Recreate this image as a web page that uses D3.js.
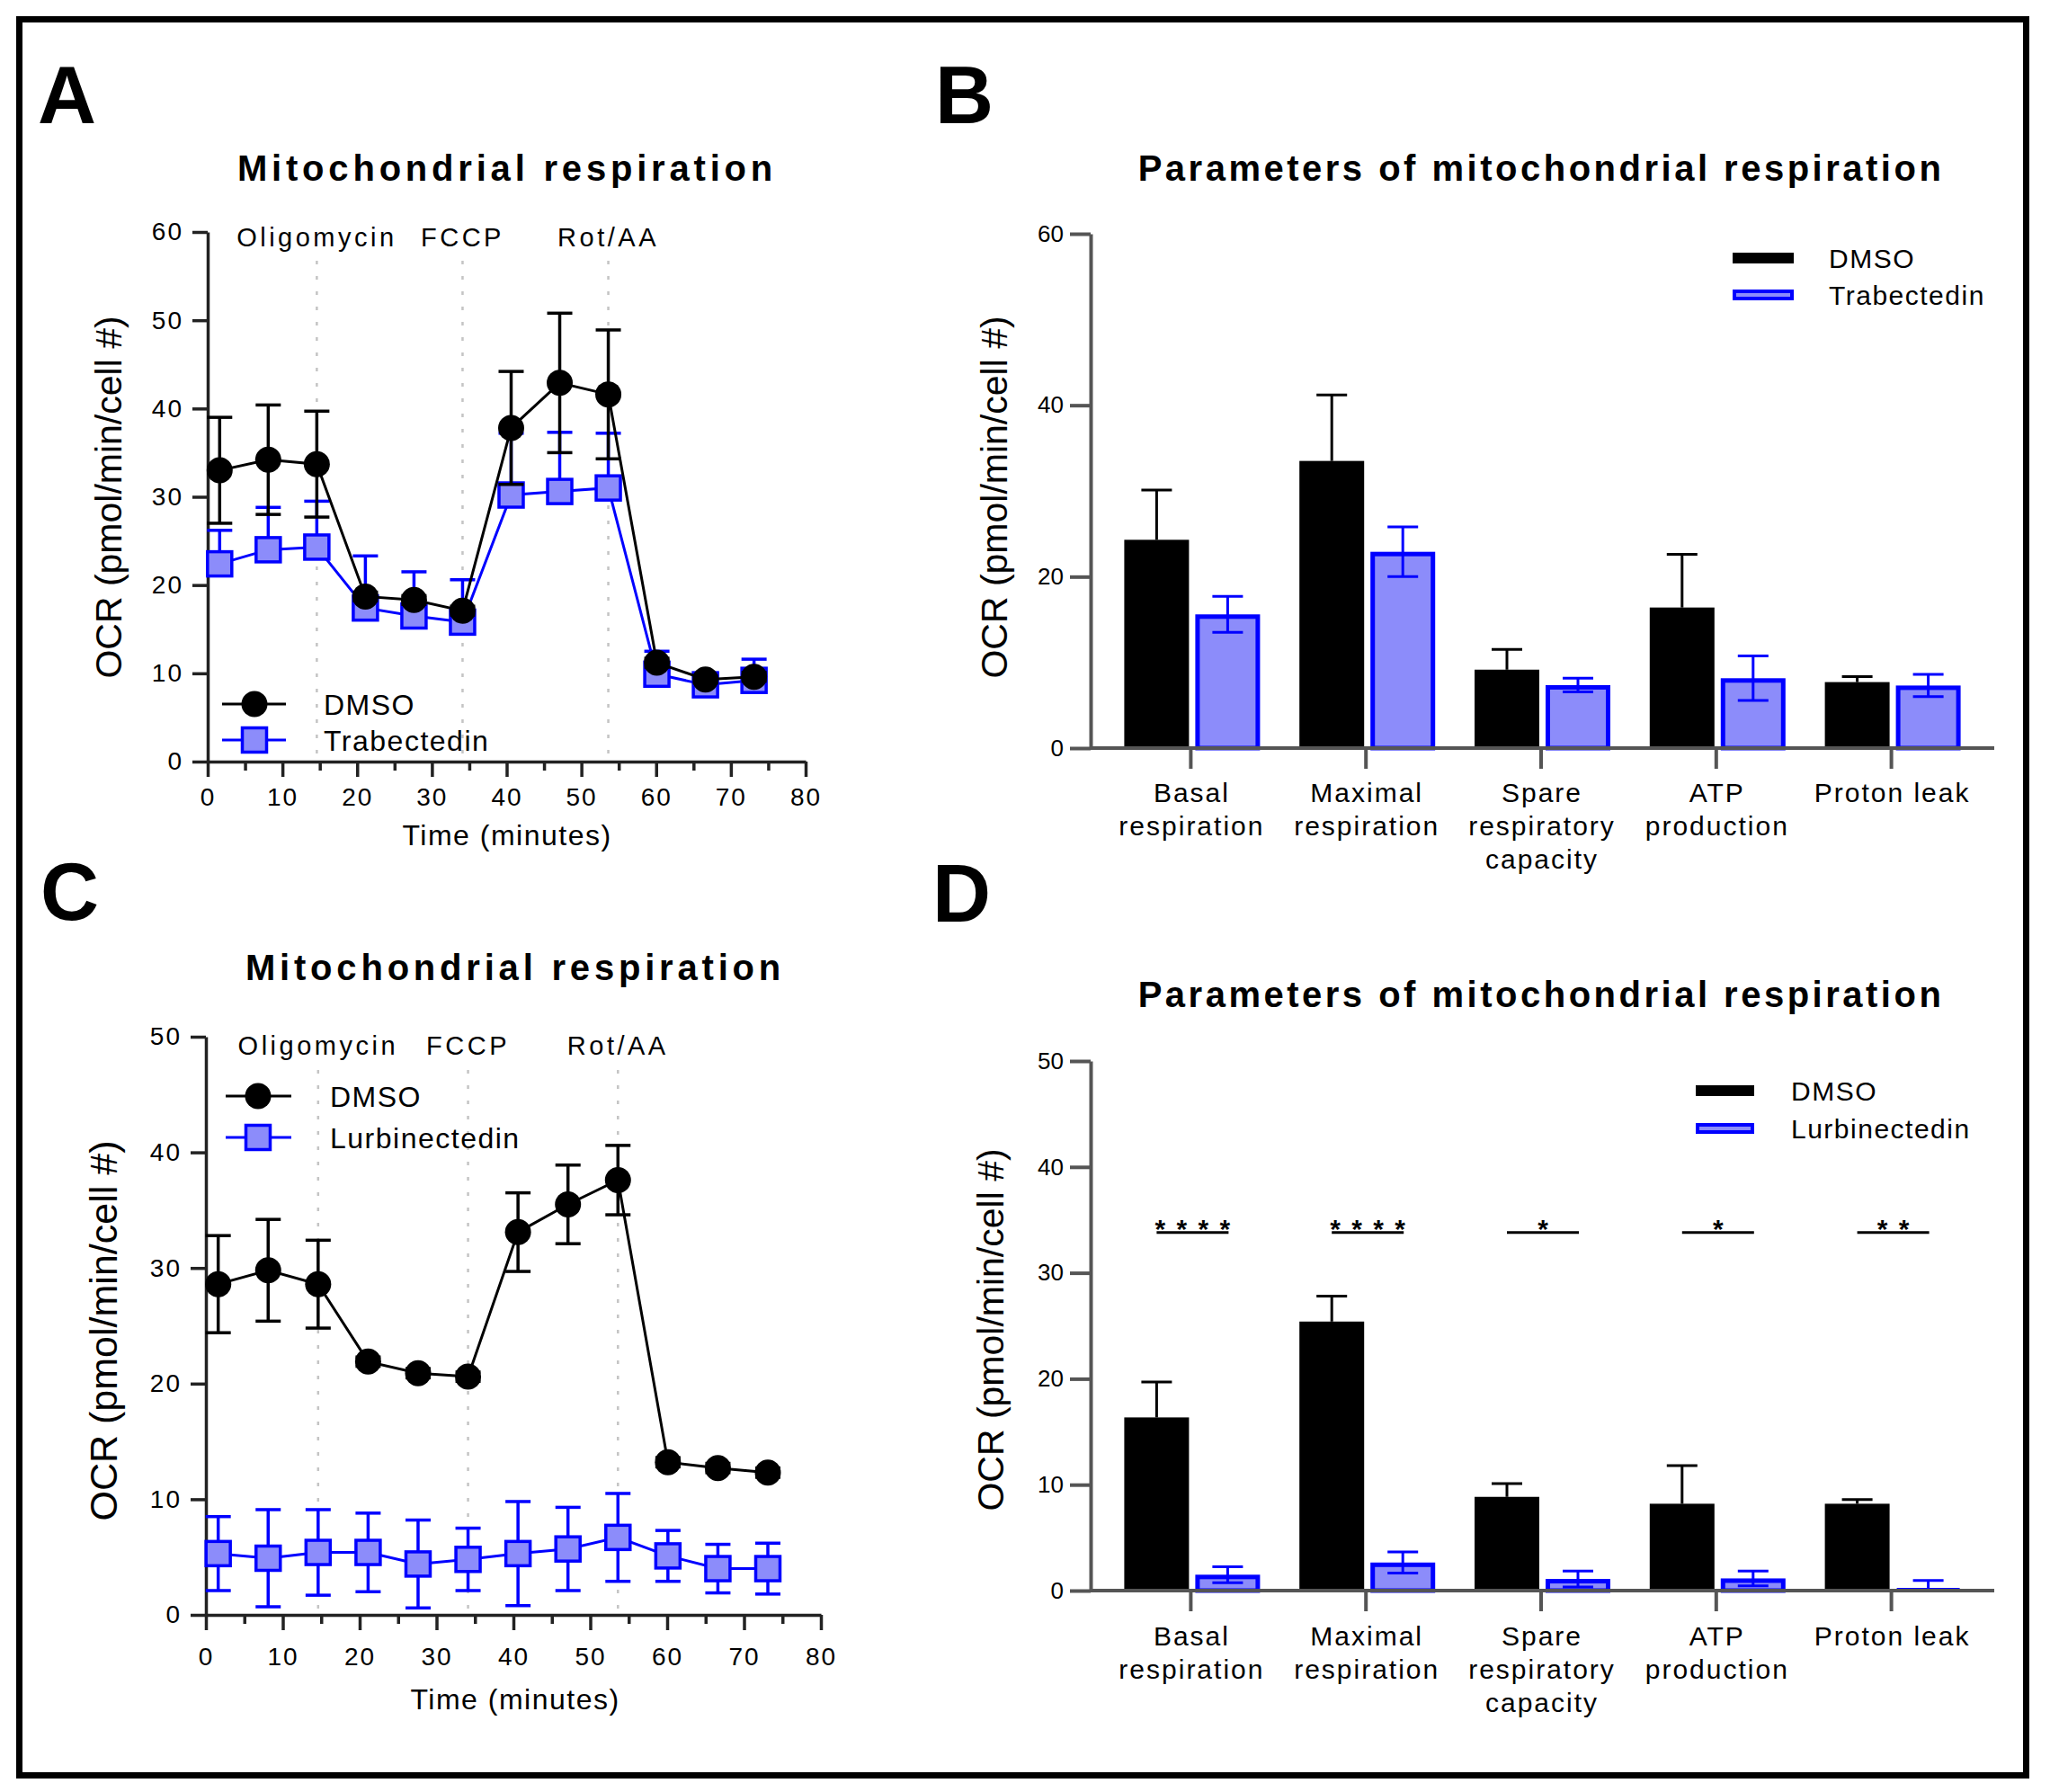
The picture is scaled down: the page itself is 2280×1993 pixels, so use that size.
<!DOCTYPE html>
<html>
<head>
<meta charset="utf-8">
<script src="https://cdn.jsdelivr.net/npm/d3@7"></script>
<style>
  body { margin: 0; background: #fff; }
  svg text { font-family: "Liberation Sans", Arial, sans-serif; }
</style>
</head>
<body>
<svg id="fig"></svg>
<script>
// ---------- data ----------
const times = [1.6, 8.1, 14.6, 21.1, 27.6, 34.1, 40.6, 47.1, 53.6, 60.1, 66.6, 73.1];
const injectionLabels = ["Oligomycin", "FCCP", "Rot/AA"];
const injectionTimes = [14.6, 34.1, 53.6];
const timeTicks = [0, 10, 20, 30, 40, 50, 60, 70, 80];
const timeMinorTicks = [5, 15, 25, 35, 45, 55, 65, 75];

// panel A (Trabectedin)
const aDmso   = [33.0, 34.2, 33.7, 18.7, 18.3, 17.1, 37.8, 42.9, 41.6, 11.2, 9.3, 9.6];
const aDmsoSd = [6.0, 6.2, 6.0, 0.5, 0.5, 0.5, 6.4, 7.9, 7.3, 0.5, 0.4, 0.5];
const aTrab   = [22.4, 24.0, 24.3, 17.4, 16.5, 15.8, 30.2, 30.6, 31.0, 9.9, 8.7, 9.2];
const aTrabSd = [3.8, 4.8, 5.2, 5.9, 5.0, 4.8, 7.0, 6.7, 6.2, 2.6, 1.2, 2.4];
const aYTicks = [0, 10, 20, 30, 40, 50, 60];

// panel C (Lurbinectedin)
const cDmso   = [28.6, 29.8, 28.6, 21.9, 20.9, 20.6, 33.1, 35.5, 37.6, 13.2, 12.7, 12.3];
const cDmsoSd = [4.2, 4.4, 3.8, 0.4, 0.4, 0.4, 3.4, 3.4, 3.0, 0.4, 0.4, 0.4];
const cLurb   = [5.3, 4.9, 5.4, 5.4, 4.4, 4.8, 5.3, 5.7, 6.7, 5.1, 4.0, 4.0];
const cLurbSd = [3.2, 4.2, 3.7, 3.4, 3.8, 2.7, 4.5, 3.6, 3.8, 2.2, 2.1, 2.2];
const cYTicks = [0, 10, 20, 30, 40, 50];

// bar panels
const params = [["Basal", "respiration"], ["Maximal", "respiration"],
                ["Spare", "respiratory", "capacity"], ["ATP", "production"], ["Proton leak"]];
const paramKeys = params.map(p => p.join(" "));

const bDmso   = [24.3, 33.5, 9.15, 16.4, 7.7];
const bDmsoSd = [5.8, 7.7, 2.35, 6.2, 0.65];
const bTrab   = [15.6, 22.9, 7.35, 8.15, 7.3];
const bTrabSd = [2.1, 2.9, 0.8, 2.6, 1.3];
const bYTicks = [0, 20, 40, 60];

const dDmso   = [16.35, 25.4, 8.85, 8.2, 8.2];
const dDmsoSd = [3.35, 2.4, 1.25, 3.6, 0.4];
const dLurb   = [1.5, 2.65, 1.1, 1.15, 0.1];
const dLurbSd = [0.75, 1.0, 0.75, 0.7, 0.85];
const dSig    = ["****", "****", "*", "*", "**"];
const dSigLevel = 33.8;
const dYTicks = [0, 10, 20, 30, 40, 50];

// ---------- style ----------
const BLUE = "#0000ff";
const LIGHT = "#8c8cfa";
const W = 2280, H = 1993;

const svg = d3.select("#fig").attr("width", W).attr("height", H);
svg.append("rect").attr("width", W).attr("height", H).attr("fill", "#fff");
svg.append("rect")
  .attr("x", 21.5).attr("y", 21.5).attr("width", 2232).attr("height", 1953)
  .attr("fill", "none").attr("stroke", "#000").attr("stroke-width", 7);

function panelLetter(t, x, y) {
  svg.append("text").attr("x", x).attr("y", y)
    .style("font-size", "90px").style("font-weight", "bold").text(t);
}

function title(t, x, y, ls) {
  svg.append("text").attr("x", x).attr("y", y).attr("text-anchor", "middle")
    .style("font-size", "40px").style("font-weight", "bold")
    .style("letter-spacing", ls + "px").text(t);
}

function yLabel(x, y, size) {
  svg.append("text")
    .attr("transform", `translate(${x},${y}) rotate(-90)`)
    .attr("text-anchor", "middle").attr("dy", "0.35em")
    .style("font-size", size + "px")
    .text("OCR (pmol/min/cell #)");
}

// ---------- line charts ----------
function lineChart(cfg) {
  const g = svg.append("g");
  const x = d3.scaleLinear().domain([0, 80]).range([cfg.x0, cfg.x1]);
  const y = d3.scaleLinear().domain([0, cfg.yMax]).range([cfg.y0, cfg.y1]);

  panelLetter(cfg.letter, cfg.letterX, cfg.letterY);
  title("Mitochondrial respiration", cfg.titleX, cfg.titleY, 4.8);

  // injection markers
  injectionTimes.forEach((t, i) => {
    g.append("line")
      .attr("x1", x(t)).attr("x2", x(t))
      .attr("y1", cfg.dotTop).attr("y2", cfg.y0)
      .attr("stroke", "#c4c4c4").attr("stroke-width", 2.5)
      .attr("stroke-dasharray", "4,13");
    g.append("text").attr("x", x(t)).attr("y", cfg.annY)
      .attr("text-anchor", "middle")
      .style("font-size", "29px").style("letter-spacing", "3.5px")
      .text(injectionLabels[i]);
  });

  // axes
  const xa = g.append("g").attr("transform", `translate(0,${cfg.y0})`)
    .call(d3.axisBottom(x).tickValues(timeTicks).tickSize(17).tickSizeOuter(0));
  xa.selectAll("text").attr("y", cfg.tickY - cfg.y0).attr("dy", null)
    .style("font-size", "28px").style("letter-spacing", "2px").attr("fill", "#000");
  g.append("g").attr("transform", `translate(0,${cfg.y0})`)
    .call(d3.axisBottom(x).tickValues(timeMinorTicks).tickSize(10).tickFormat(""))
    .select(".domain").remove();

  const ya = g.append("g").attr("transform", `translate(${cfg.x0},0)`)
    .call(d3.axisLeft(y).tickValues(cfg.yTicks).tickSize(17).tickSizeOuter(0).tickPadding(10));
  ya.selectAll("text").style("font-size", "28px").style("letter-spacing", "2px").attr("fill", "#000");

  g.selectAll(".domain").attr("stroke", "#222").attr("stroke-width", 3.5);
  g.selectAll(".tick line").attr("stroke", "#222").attr("stroke-width", 3.5);

  yLabel(cfg.ylabX, cfg.ylabY, cfg.ylabSize);
  g.append("text").attr("x", cfg.xlabX).attr("y", cfg.xlabY)
    .attr("text-anchor", "middle")
    .style("font-size", "32px").style("letter-spacing", "1.5px")
    .text("Time (minutes)");

  const line = d3.line().x((d, i) => x(times[i])).y(d => y(d));

  cfg.series.forEach(s => {
    const sg = g.append("g");
    sg.append("path").datum(s.values)
      .attr("d", line).attr("fill", "none")
      .attr("stroke", s.color).attr("stroke-width", 3);

    // error bars
    s.values.forEach((v, i) => {
      const cx = x(times[i]);
      const ends = s.dir === "up" ? [v + s.sd[i]] : [v + s.sd[i], v - s.sd[i]];
      ends.forEach(e => {
        sg.append("line").attr("x1", cx).attr("x2", cx)
          .attr("y1", y(v)).attr("y2", y(e))
          .attr("stroke", s.color).attr("stroke-width", 3.5);
        sg.append("line").attr("x1", cx - 14).attr("x2", cx + 14)
          .attr("y1", y(e)).attr("y2", y(e))
          .attr("stroke", s.color).attr("stroke-width", 3.5);
      });
    });

    s.values.forEach((v, i) => drawMarker(sg, s.marker, x(times[i]), y(v)));
  });

  // legend
  cfg.series.slice().reverse().forEach((s, k) => {
    const ly = cfg.legend.y[k];
    g.append("line").attr("x1", cfg.legend.x0).attr("x2", cfg.legend.x1)
      .attr("y1", ly).attr("y2", ly)
      .attr("stroke", s.color).attr("stroke-width", 3);
    drawMarker(g, s.marker, cfg.legend.cx, ly);
    g.append("text").attr("x", cfg.legend.tx).attr("y", ly + 11.5)
      .style("font-size", "32px").style("letter-spacing", "1.5px").text(s.name);
  });
}

function drawMarker(g, kind, cx, cy) {
  if (kind === "circle") {
    g.append("circle").attr("cx", cx).attr("cy", cy).attr("r", 14.5).attr("fill", "#000");
  } else {
    g.append("rect").attr("x", cx - 13.5).attr("y", cy - 13.5)
      .attr("width", 27).attr("height", 27)
      .attr("fill", LIGHT).attr("stroke", BLUE).attr("stroke-width", 3.5);
  }
}

// ---------- bar charts ----------
function barChart(cfg) {
  const g = svg.append("g");
  const x = d3.scaleBand().domain(paramKeys).range([1227, 2201]).padding(0);
  const cxOf = k => x(k) + x.bandwidth() / 2;
  const y = d3.scaleLinear().domain([0, cfg.yMax]).range([cfg.y0, cfg.y1]);
  const barW = 72;

  panelLetter(cfg.letter, cfg.letterX, cfg.letterY);
  title("Parameters of mitochondrial respiration", 1714, cfg.titleY, 3.5);
  yLabel(cfg.ylabX, cfg.ylabY, 41);

  // bars
  paramKeys.forEach((k, i) => {
    const c = cxOf(k);
    // control bar
    const v = cfg.dmso[i], sd = cfg.dmsoSd[i];
    g.append("line").attr("x1", c - 38).attr("x2", c - 38)
      .attr("y1", y(v)).attr("y2", y(v + sd))
      .attr("stroke", "#000").attr("stroke-width", 3);
    g.append("line").attr("x1", c - 55).attr("x2", c - 21)
      .attr("y1", y(v + sd)).attr("y2", y(v + sd))
      .attr("stroke", "#000").attr("stroke-width", 3);
    g.append("rect").attr("x", c - 74).attr("y", y(v))
      .attr("width", barW).attr("height", cfg.y0 - y(v)).attr("fill", "#000");

    // treated bar
    const t = cfg.treat[i], tsd = cfg.treatSd[i];
    const tx = c + 5;
    const top = Math.min(y(t) + 2.5, cfg.y0 - 1.5);
    g.append("rect").attr("x", tx + 2.5).attr("y", top)
      .attr("width", barW - 5).attr("height", Math.max(1, cfg.y0 - top))
      .attr("fill", LIGHT).attr("stroke", BLUE).attr("stroke-width", t < 0.5 ? 3 : 5);
    const tc = tx + barW / 2;
    const lo = Math.max(0, t - tsd);
    g.append("line").attr("x1", tc).attr("x2", tc)
      .attr("y1", y(lo)).attr("y2", y(t + tsd))
      .attr("stroke", BLUE).attr("stroke-width", 3);
    [t + tsd, lo].forEach(e => {
      if (e <= 0) return;
      g.append("line").attr("x1", tc - 17).attr("x2", tc + 17)
        .attr("y1", y(e)).attr("y2", y(e))
        .attr("stroke", BLUE).attr("stroke-width", 3);
    });

    // category label
    const lab = g.append("text").attr("text-anchor", "middle")
      .style("font-size", "30px").style("letter-spacing", "2px");
    params[i].forEach((line, j) => {
      lab.append("tspan").attr("x", c + 1).attr("y", cfg.catY + j * 37).text(line);
    });

    // significance
    if (cfg.sig) {
      const sy = y(cfg.sigLevel);
      g.append("line").attr("x1", c - 38).attr("x2", c + 42)
        .attr("y1", sy).attr("y2", sy).attr("stroke", "#000").attr("stroke-width", 3);
      const n = cfg.sig[i].length;
      d3.range(n).forEach(s => {
        g.append("text").attr("x", c + 2 + (s - (n - 1) / 2) * 24).attr("y", sy + 6)
          .attr("text-anchor", "middle")
          .style("font-size", "30px").style("font-weight", "bold").text("*");
      });
    }
  });

  // axes
  const xa = g.append("g").attr("transform", `translate(0,${cfg.y0})`)
    .call(d3.axisBottom(x).tickSize(23).tickFormat(""));
  xa.select(".domain").remove();
  g.append("line").attr("x1", 1213).attr("x2", 2218)
    .attr("y1", cfg.y0).attr("y2", cfg.y0)
    .attr("stroke", "#555").attr("stroke-width", 4);

  const ya = g.append("g").attr("transform", `translate(1213,0)`)
    .call(d3.axisLeft(y).tickValues(cfg.yTicks).tickSize(23).tickSizeOuter(0).tickPadding(7));
  ya.selectAll("text").style("font-size", "26px").attr("fill", "#000");
  g.selectAll(".domain").attr("stroke", "#555").attr("stroke-width", 4);
  g.selectAll(".tick line").attr("stroke", "#555").attr("stroke-width", 4);

  // legend
  const L = cfg.legend;
  g.append("rect").attr("x", L.x0).attr("y", L.y[0] - 6)
    .attr("width", L.x1 - L.x0).attr("height", 12).attr("fill", "#000");
  g.append("rect").attr("x", L.x0 + 2).attr("y", L.y[1] - 4)
    .attr("width", L.x1 - L.x0 - 4).attr("height", 8)
    .attr("fill", LIGHT).attr("stroke", BLUE).attr("stroke-width", 4);
  ["DMSO", cfg.treatName].forEach((name, k) => {
    g.append("text").attr("x", L.tx).attr("y", L.y[k] + 11)
      .style("font-size", "30px").style("letter-spacing", "1.5px").text(name);
  });
}

lineChart({
  letter: "A", letterX: 42, letterY: 137,
  x0: 231, x1: 896, y0: 847, y1: 258, yMax: 60, yTicks: aYTicks,
  titleX: 564, titleY: 201, annY: 274, dotTop: 290,
  ylabX: 121, ylabY: 553, ylabSize: 41,
  xlabX: 564, xlabY: 940, tickY: 896,
  legend: { x0: 247, x1: 318, cx: 283, y: [783, 823], tx: 360 },
  series: [
    { name: "Trabectedin", values: aTrab, sd: aTrabSd, dir: "up", color: BLUE, marker: "square" },
    { name: "DMSO", values: aDmso, sd: aDmsoSd, dir: "both", color: "#000", marker: "circle" }
  ]
});

lineChart({
  letter: "C", letterX: 45, letterY: 1023,
  x0: 229, x1: 913, y0: 1796, y1: 1153, yMax: 50, yTicks: cYTicks,
  titleX: 573, titleY: 1090, annY: 1173, dotTop: 1190,
  ylabX: 115, ylabY: 1480, ylabSize: 43,
  xlabX: 573, xlabY: 1901, tickY: 1852,
  legend: { x0: 251, x1: 324, cx: 287, y: [1219, 1265], tx: 367 },
  series: [
    { name: "Lurbinectedin", values: cLurb, sd: cLurbSd, dir: "both", color: BLUE, marker: "square" },
    { name: "DMSO", values: cDmso, sd: cDmsoSd, dir: "both", color: "#000", marker: "circle" }
  ]
});

barChart({
  letter: "B", letterX: 1040, letterY: 137,
  y0: 832, y1: 260, yMax: 60, yTicks: bYTicks, titleY: 201,
  ylabX: 1106, ylabY: 553, catY: 892,
  dmso: bDmso, dmsoSd: bDmsoSd, treat: bTrab, treatSd: bTrabSd, treatName: "Trabectedin",
  legend: { x0: 1927, x1: 1995, y: [287, 328], tx: 2034 }
});

barChart({
  letter: "D", letterX: 1037, letterY: 1025,
  y0: 1769, y1: 1180, yMax: 50, yTicks: dYTicks, titleY: 1120,
  ylabX: 1102, ylabY: 1479, catY: 1830,
  dmso: dDmso, dmsoSd: dDmsoSd, treat: dLurb, treatSd: dLurbSd, treatName: "Lurbinectedin",
  sig: dSig, sigLevel: dSigLevel,
  legend: { x0: 1886, x1: 1951, y: [1213, 1255], tx: 1992 }
});
</script>
</body>
</html>
